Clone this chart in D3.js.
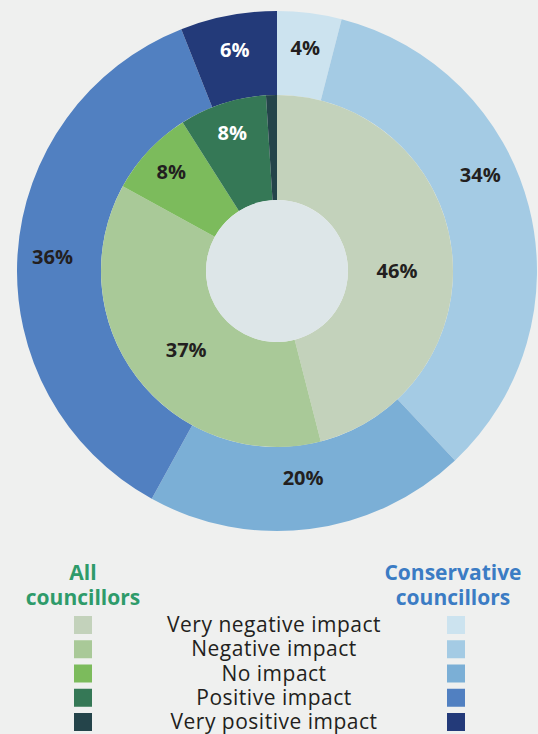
<!DOCTYPE html>
<html>
<head>
<meta charset="utf-8">
<script src="https://cdn.jsdelivr.net/npm/d3@7"></script>
<style>
  html, body { margin: 0; padding: 0; background: #eff0ef; }
  svg { display: block; }
  text { font-family: "Open Sans", Lato, sans-serif; }
</style>
</head>
<body>
<div id="chart"></div>
<script>
// categories, clockwise from 12 o'clock
var categories = ['Very negative impact', 'Negative impact', 'No impact', 'Positive impact', 'Very positive impact']
var allValues = [46, 37, 8, 8, 1]          // inner ring, all councillors
var conValues = [4, 34, 20, 36, 6]         // outer ring, conservative councillors
var allColors = ['#c3d2bb', '#a9c998', '#7cbb5c', '#357856', '#24444a']
var conColors = ['#cce3ef', '#a4cbe4', '#7bafd6', '#5180c1', '#233a79']
var seriesNames = ['All\ncouncillors', 'Conservative\ncouncillors']

var W = 538, H = 734
var cx = 277, cy = 271
var rHole = 71, rInner = 176, rOuter = 260

var svg = d3.select('#chart').append('svg')
    .attr('width', W)
    .attr('height', H)

var g = svg.append('g')
    .attr('transform', 'translate(' + cx + ',' + cy + ')')

var pie = d3.pie().sort(null).value(function (d) { return d.value })

function rows(vals, cols) {
  return categories.map(function (c, i) { return { cat: c, value: vals[i], color: cols[i] } })
}

var outerArc = d3.arc().innerRadius(rInner).outerRadius(rOuter)
var innerArc = d3.arc().innerRadius(rHole).outerRadius(rInner)

// label nudges (in degrees) where the original moved the text off the centroid
var outerNudge = { 'Negative impact': -11 }
var innerNudge = { 'Very negative impact': 7, 'Negative impact': -3 }

// outer ring
g.selectAll('path.outer')
    .data(pie(rows(conValues, conColors)))
    .enter()
  .append('path')
    .attr('class', 'outer')
    .attr('d', outerArc)
    .attr('fill', function (d) { return d.data.color })

// inner ring
g.selectAll('path.inner')
    .data(pie(rows(allValues, allColors)))
    .enter()
  .append('path')
    .attr('class', 'inner')
    .attr('d', innerArc)
    .attr('fill', function (d) { return d.data.color })

// hole
g.append('circle')
    .attr('r', rHole)
    .attr('fill', '#dde6e8')

function labelPos(d, r, nudge) {
  var a = (d.startAngle + d.endAngle) / 2 + (nudge[d.data.cat] || 0) * Math.PI / 180
  return [Math.sin(a) * r, -Math.cos(a) * r]
}

// white text on the dark slices only
function labelFill(d) {
  return d3.hsl(d.data.color).l < 0.4 ? '#ffffff' : '#231f20'
}

g.selectAll('text.outerLabel')
    .data(pie(rows(conValues, conColors)))
    .enter()
  .append('text')
    .attr('class', 'outerLabel')
    .attr('transform', function (d) {
      var r = d.data.cat === 'No impact' ? 208 : 225
      return 'translate(' + labelPos(d, r, outerNudge) + ')'
    })
    .attr('text-anchor', 'middle')
    .attr('dy', '0.36em')
    .style('font-size', '20px')
    .style('font-weight', 700)
    .attr('fill', labelFill)
    .text(function (d) { return d.data.value + '%' })

g.selectAll('text.innerLabel')
    .data(pie(rows(allValues, allColors)).filter(function (d) { return d.data.value > 2 }))
    .enter()
  .append('text')
    .attr('class', 'innerLabel')
    .attr('transform', function (d) {
      var r = d.data.value < 10 ? 145 : 120
      return 'translate(' + labelPos(d, r, innerNudge) + ')'
    })
    .attr('text-anchor', 'middle')
    .attr('dy', '0.36em')
    .style('font-size', '20px')
    .style('font-weight', 700)
    .attr('fill', labelFill)
    .text(function (d) { return d.data.value + '%' })

// legend
var legendY = d3.scalePoint().domain(categories).range([625, 722])

var heads = [
  { text: seriesNames[0], x: 83, color: '#2e9b6a' },
  { text: seriesNames[1], x: 453, color: '#3b7cc4' }
]
heads.forEach(function (h) {
  var t = svg.append('text')
      .attr('x', h.x)
      .attr('y', 580)
      .attr('text-anchor', 'middle')
      .attr('fill', h.color)
      .style('font-size', '21px')
      .style('font-weight', 700)
  h.text.split('\n').forEach(function (line, i) {
    t.append('tspan').attr('x', h.x).attr('dy', i ? 25 : 0).text(line)
  })
})

var leg = svg.selectAll('g.leg')
    .data(categories)
    .enter()
  .append('g')
    .attr('class', 'leg')
    .attr('transform', function (d) { return 'translate(0,' + legendY(d) + ')' })

leg.append('rect')
    .attr('x', 74).attr('y', -9)
    .attr('width', 18).attr('height', 18)
    .attr('fill', function (d, i) { return allColors[i] })

leg.append('rect')
    .attr('x', 447).attr('y', -9)
    .attr('width', 18).attr('height', 18)
    .attr('fill', function (d, i) { return conColors[i] })

leg.append('text')
    .attr('x', 274)
    .attr('dy', '0.34em')
    .attr('text-anchor', 'middle')
    .attr('fill', '#231f20')
    .style('font-size', '21px')
    .style('letter-spacing', '0.5px')
    .text(function (d) { return d })
</script>
</body>
</html>
